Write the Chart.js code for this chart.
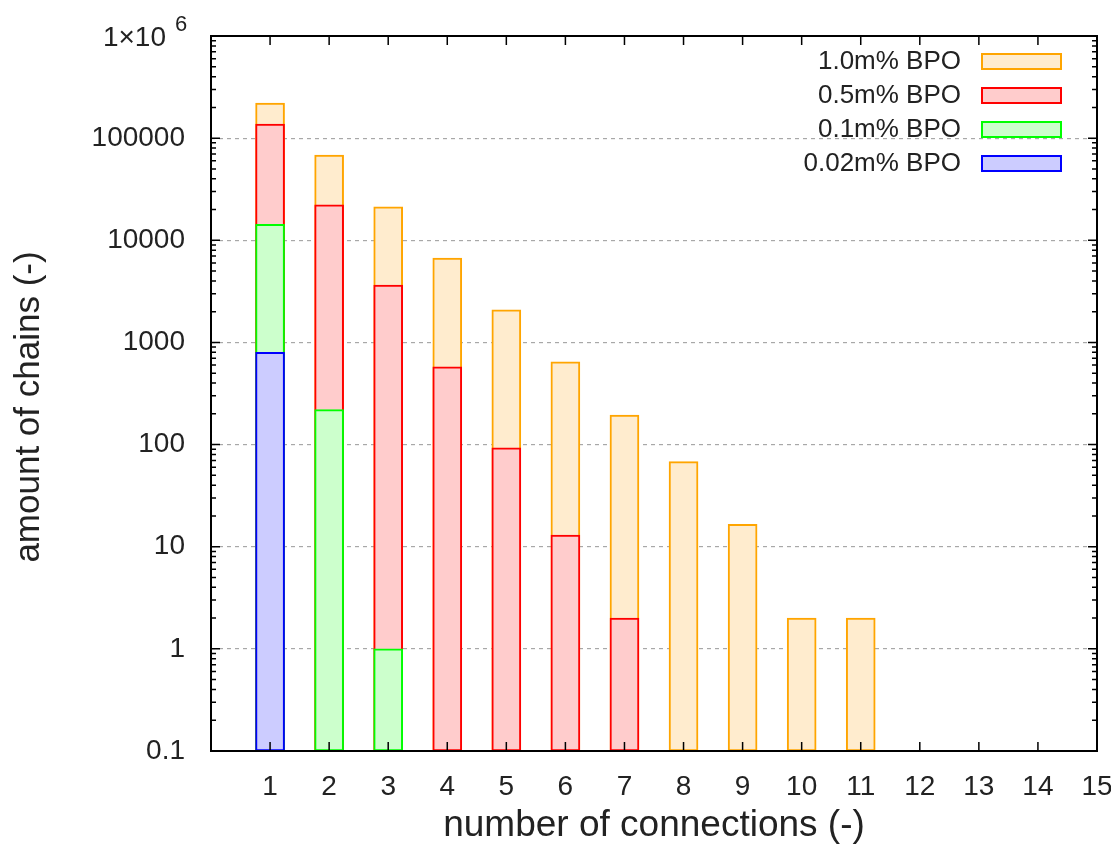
<!DOCTYPE html>
<html>
<head>
<meta charset="utf-8">
<script src="https://cdn.jsdelivr.net/npm/chart.js@4/dist/chart.umd.min.js"></script>
<style>
  html, body { margin: 0; padding: 0; background: #ffffff; }
  #wrap { width: 1111px; height: 848px; position: relative; }
</style>
</head>
<body>
<div id="wrap"><canvas id="c" width="1111" height="848"></canvas></div>
<script>
// ---- data ----
const connections = [1, 2, 3, 4, 5, 6, 7, 8, 9, 10, 11, 12, 13, 14, 15];
const seriesNames = ['1.0m% BPO', '0.5m% BPO', '0.1m% BPO', '0.02m% BPO'];
const bpo10  = [221000, 68200, 21200, 6700, 2080, 646, 194, 68, 16.6, 2, 2, null, null, null, null];
const bpo05  = [137000, 22300, 3650, 576, 93, 13, 2, null, null, null, null, null, null, null, null];
const bpo01  = [14300, 220, 1, null, null, null, null, null, null, null, null, null, null, null, null];
const bpo002 = [800, null, null, null, null, null, null, null, null, null, null, null, null, null, null];
const xTickValues = [1, 2, 3, 4, 5, 6, 7, 8, 9, 10, 11, 12, 13, 14, 15];
const xTickLabels = ['1', '2', '3', '4', '5', '6', '7', '8', '9', '10', '11', '12', '13', '14', '15'];
const yTickValues = [0.1, 1, 10, 100, 1000, 10000, 100000, 1000000];
const yTickLabels = ['0.1', '1', '10', '100', '1000', '10000', '100000', '1×10'];
const yTopExponent = '6';
const xTitle = 'number of connections (-)';
const yTitle = 'amount of chains (-)';

// ---- styles ----
const borderColors = ['#ffa500', '#ff0000', '#00ff00', '#0000ff'];
const fillColors = ['rgb(255,236,206)', 'rgb(255,204,204)', 'rgb(204,255,204)', 'rgb(204,204,255)'];
const FONT = "'Liberation Sans', Arial, sans-serif";
const TEXT = '#222222';

const seriesValues = [bpo10, bpo05, bpo01, bpo002];

function toPoints(vals) {
  const pts = [];
  vals.forEach((v, i) => { if (v !== null) pts.push({ x: connections[i], y: v }); });
  return pts;
}

const datasets = seriesValues.map((vals, i) => ({
  label: seriesNames[i],
  data: toPoints(vals),
  backgroundColor: fillColors[i],
  borderColor: borderColors[i],
  borderWidth: 2,
  borderSkipped: false,
  barThickness: 29,
  grouped: false,
  order: seriesValues.length - i   // first series drawn behind
}));

const framePlugin = {
  id: 'framePlugin',
  afterDatasetsDraw(chart) {
    const { ctx, chartArea: a, scales } = chart;
    const xs = scales.x, ys = scales.y;
    ctx.save();
    ctx.strokeStyle = '#000000';
    ctx.lineWidth = 1.5;
    // inward ticks
    ctx.beginPath();
    xTickValues.forEach(v => {
      const px = xs.getPixelForValue(v);
      ctx.moveTo(px, a.bottom); ctx.lineTo(px, a.bottom - 9);
      ctx.moveTo(px, a.top); ctx.lineTo(px, a.top + 9);
    });
    yTickValues.forEach(v => {
      const py = ys.getPixelForValue(v);
      ctx.moveTo(a.left, py); ctx.lineTo(a.left + 9, py);
      ctx.moveTo(a.right, py); ctx.lineTo(a.right - 9, py);
    });
    for (let k = -1; k < 6; k++) {
      for (let m = 2; m <= 9; m++) {
        const v = m * Math.pow(10, k);
        const py = ys.getPixelForValue(v);
        ctx.moveTo(a.left, py); ctx.lineTo(a.left + 5, py);
        ctx.moveTo(a.right, py); ctx.lineTo(a.right - 5, py);
      }
    }
    ctx.stroke();
    ctx.lineWidth = 2;
    ctx.strokeRect(a.left, a.top, a.right - a.left, a.bottom - a.top);

    // top tick label with superscript exponent
    ctx.fillStyle = TEXT;
    ctx.textAlign = 'right';
    ctx.textBaseline = 'middle';
    ctx.font = '28px ' + FONT;
    const yTop = ys.getPixelForValue(yTickValues[yTickValues.length - 1]);
    ctx.fillText(yTickLabels[yTickLabels.length - 1], a.left - 45, yTop + 2);
    ctx.textAlign = 'left';
    ctx.font = '22px ' + FONT;
    ctx.fillText(yTopExponent, a.left - 36, yTop - 11);

    // y axis title
    ctx.save();
    ctx.translate(29, 407);
    ctx.rotate(-Math.PI / 2);
    ctx.textAlign = 'center';
    ctx.textBaseline = 'middle';
    ctx.font = '35px ' + FONT;
    ctx.fillStyle = TEXT;
    ctx.fillText(yTitle, 0, 0);
    ctx.restore();

    // legend (text left of box, gnuplot style)
    ctx.font = '26px ' + FONT;
    ctx.textAlign = 'right';
    ctx.textBaseline = 'middle';
    seriesNames.forEach((name, i) => {
      const cy = 61 + i * 34;
      ctx.fillStyle = TEXT;
      ctx.fillText(name, 961, cy + 1);
      ctx.fillStyle = fillColors[i];
      ctx.fillRect(982, cy - 7, 79, 15);
      ctx.strokeStyle = borderColors[i];
      ctx.lineWidth = 2;
      ctx.strokeRect(982, cy - 7, 79, 15);
    });
    ctx.restore();
  }
};

new Chart(document.getElementById('c'), {
  type: 'bar',
  data: { datasets },
  plugins: [framePlugin],
  options: {
    responsive: false,
    animation: false,
    devicePixelRatio: 1,
    layout: { padding: { top: 36, right: 14, bottom: 0, left: 0 } },
    plugins: { legend: { display: false }, tooltip: { enabled: false } },
    scales: {
      x: {
        type: 'linear',
        min: 0,
        max: 15,
        offset: false,
        afterFit(s) { s.height = 97; s.paddingLeft = 0; s.paddingRight = 0; },
        afterBuildTicks(s) { s.ticks = xTickValues.map(v => ({ value: v })); },
        ticks: {
          autoSkip: false,
          maxRotation: 0,
          padding: 19,
          color: TEXT,
          font: { family: FONT, size: 28 },
          callback(v) { const i = xTickValues.indexOf(v); return i >= 0 ? xTickLabels[i] : ''; }
        },
        grid: { display: false, drawTicks: false },
        border: { display: false },
        title: {
          display: true,
          text: xTitle,
          color: TEXT,
          font: { family: FONT, size: 37 },
          padding: { top: 0, bottom: 0 }
        }
      },
      y: {
        type: 'logarithmic',
        min: 0.1,
        max: 1000000,
        afterFit(s) { s.width = 211; s.paddingTop = 0; s.paddingBottom = 0; },
        afterBuildTicks(s) { s.ticks = yTickValues.map(v => ({ value: v })); },
        ticks: {
          autoSkip: false,
          padding: 26,
          color: TEXT,
          font: { family: FONT, size: 28 },
          callback(v) {
            const i = yTickValues.indexOf(v);
            if (i < 0 || i === yTickValues.length - 1) return '';
            return yTickLabels[i];
          }
        },
        grid: {
          drawTicks: false,
          lineWidth: 1.2,
          color(ctx) {
            const v = ctx.tick && ctx.tick.value;
            return (v === 0.1 || v === 1000000) ? 'rgba(0,0,0,0)' : '#a8a8a8';
          }
        },
        border: { display: false, dash: [4, 4] },
        title: { display: false }
      }
    }
  }
});
</script>
</body>
</html>
